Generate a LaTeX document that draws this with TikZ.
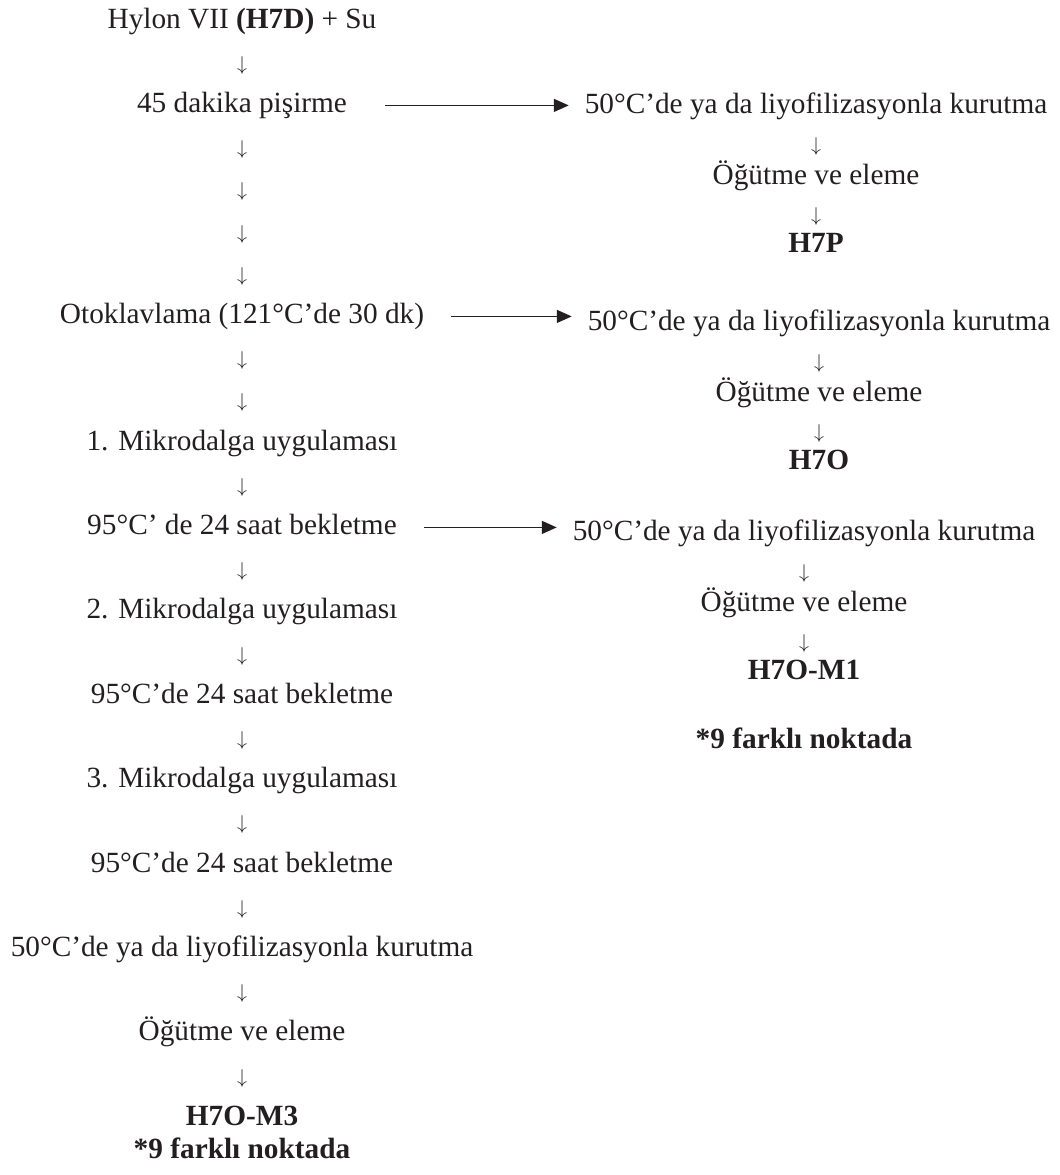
\documentclass[tikz,border=0pt]{standalone}
\usepackage{fontspec}
\setmainfont{Liberation Serif}
\usetikzlibrary{positioning,arrows.meta}
\definecolor{ink}{RGB}{35,31,32}

\begin{document}
\begin{tikzpicture}[x=0.5pt,y=-0.5pt,>={Triangle[length=7.5pt,width=6.5pt]},
   node distance=6.1pt,
   every node/.style={font=\fontsize{14.65}{17}\selectfont,text=ink,
     inner sep=0pt,outer sep=0pt,text height=11pt,text depth=4pt},
   down/.style={font=\fontsize{10}{12}\selectfont},
   rdown/.style={down,text height=12.75pt,text depth=2.25pt},
   flow/.style={->,draw=ink,line width=0.8pt,shorten >=8pt}]
  \useasboundingbox (0,0) rectangle (1060,1175);
  % main line
  \node[anchor=base] (hylon) at (242,28) {Hylon VII \textbf{(H7D)} + Su};
  \node[down] (v1) [below=of hylon] {$\downarrow$};
  \node (pisirme) [below=of v1] {45 dakika pişirme};
  \node[down] (v2) [below=of pisirme] {$\downarrow$};
  \node[down] (v3) [below=of v2] {$\downarrow$};
  \node[down] (v4) [below=of v3] {$\downarrow$};
  \node[down] (v5) [below=of v4] {$\downarrow$};
  \node (otoklav) [below=of v5] {Otoklavlama (121°C’de 30 dk)};
  \node[down] (v6) [below=of otoklav] {$\downarrow$};
  \node[down] (v7) [below=of v6] {$\downarrow$};
  \node (mik1) [below=of v7] {1. Mikrodalga uygulaması};
  \node[down] (v8) [below=of mik1] {$\downarrow$};
  \node (bek1) [below=of v8] {95°C’ de 24 saat bekletme};
  \node[down] (v9) [below=of bek1] {$\downarrow$};
  \node (mik2) [below=of v9] {2. Mikrodalga uygulaması};
  \node[down] (v10) [below=of mik2] {$\downarrow$};
  \node (bek2) [below=of v10] {95°C’de 24 saat bekletme};
  \node[down] (v11) [below=of bek2] {$\downarrow$};
  \node (mik3) [below=of v11] {3. Mikrodalga uygulaması};
  \node[down] (v12) [below=of mik3] {$\downarrow$};
  \node (bek3) [below=of v12] {95°C’de 24 saat bekletme};
  \node[down] (v13) [below=of bek3] {$\downarrow$};
  \node (kurL) [below=of v13] {50°C’de ya da liyofilizasyonla kurutma};
  \node[down] (v14) [below=of kurL] {$\downarrow$};
  \node (ogutL) [below=of v14] {Öğütme ve eleme};
  \node[down] (v15) [below=of ogutL] {$\downarrow$};
  \node (h7om3) [below=of v15] {\textbf{H7O-M3}};
  \node (notL) [below=1.5pt of h7om3] {\textbf{*9 farklı noktada}};
  % side lines
  \node[anchor=base] (kur1) at (816,113) {50°C’de ya da liyofilizasyonla kurutma};
  \node[rdown] (w1) [below=2.25pt of kur1] {$\downarrow$};
  \node (ogut1) [below=3.5pt of w1] {Öğütme ve eleme};
  \node[rdown] (w2) [below=1.5pt of ogut1] {$\downarrow$};
  \node (h7p) [below=2.25pt of w2] {\textbf{H7P}};
  \node[anchor=base] (kur2) at (819,330) {50°C’de ya da liyofilizasyonla kurutma};
  \node[rdown] (w3) [below=2.25pt of kur2] {$\downarrow$};
  \node (ogut2) [below=3.5pt of w3] {Öğütme ve eleme};
  \node[rdown] (w4) [below=1.5pt of ogut2] {$\downarrow$};
  \node (h7o) [below=2.25pt of w4] {\textbf{H7O}};
  \node[anchor=base] (kur3) at (804,540) {50°C’de ya da liyofilizasyonla kurutma};
  \node[rdown] (w5) [below=2.25pt of kur3] {$\downarrow$};
  \node (ogut3) [below=3.5pt of w5] {Öğütme ve eleme};
  \node[rdown] (w6) [below=1.5pt of ogut3] {$\downarrow$};
  \node (h7om1) [below=2.25pt of w6] {\textbf{H7O-M1}};
  \node (notR) [below=19.5pt of h7om1] {\textbf{*9 farklı noktada}};
  \draw[flow,shorten <=19pt] (pisirme.east) -- (pisirme.east -| kur1.west);
  \draw[flow,shorten <=13.5pt] (otoklav.east) -- (otoklav.east -| kur2.west);
  \draw[flow,shorten <=13.5pt] (bek1.east) -- (bek1.east -| kur3.west);
\end{tikzpicture}
\end{document}
